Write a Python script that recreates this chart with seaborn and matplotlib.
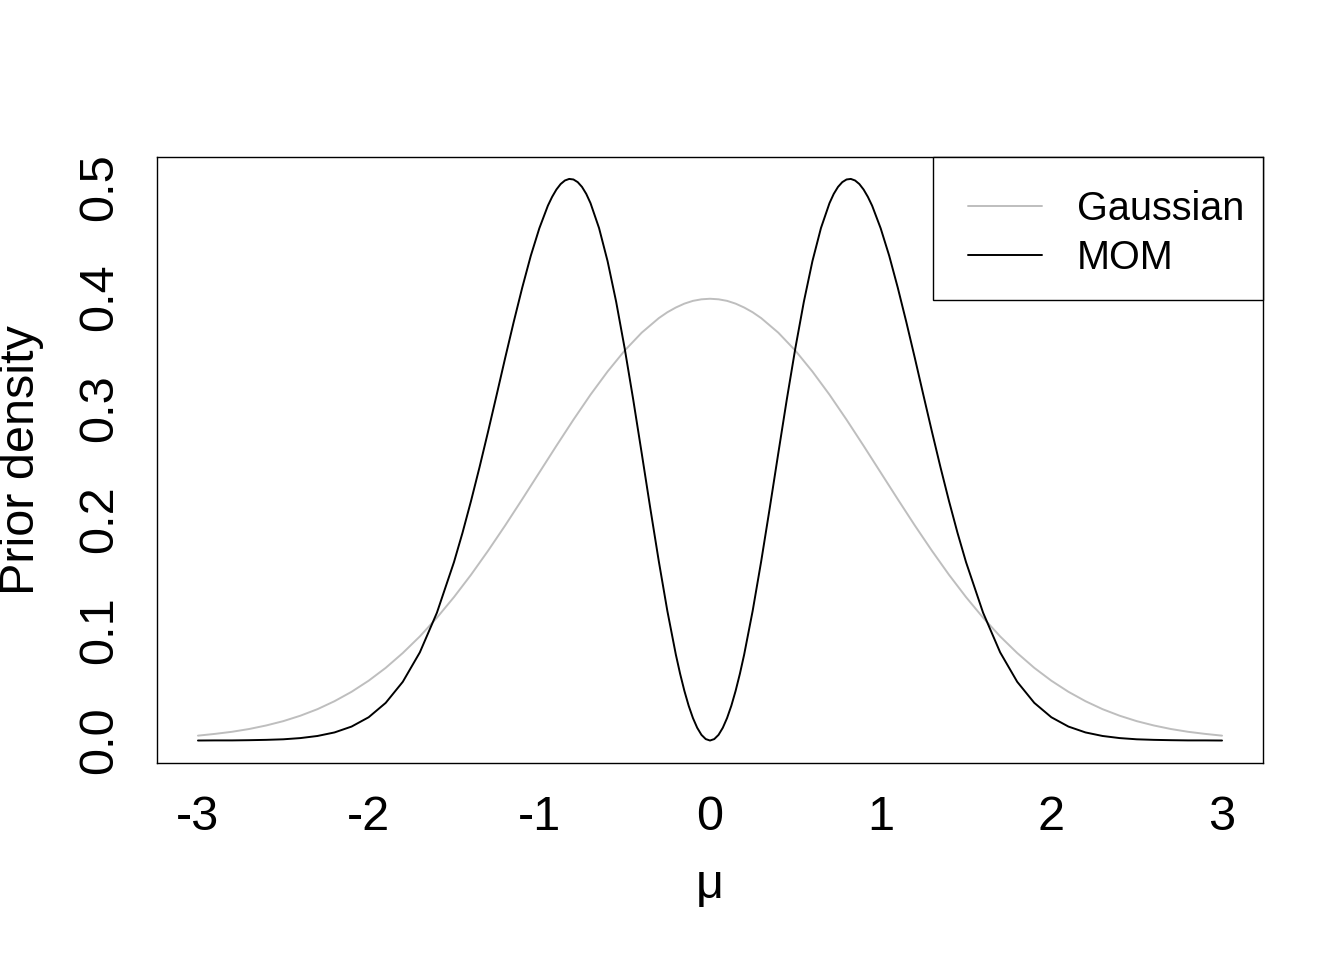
import matplotlib
matplotlib.use("Agg")
import matplotlib.pyplot as plt
from matplotlib.patches import Rectangle
import seaborn as sns

# ---- data ----
gauss_x = [-3.0, -2.9, -2.8, -2.7, -2.6, -2.5, -2.4, -2.3, -2.2, -2.1, -2.0,
           -1.9, -1.8, -1.7, -1.6, -1.5, -1.4, -1.3, -1.2, -1.1, -1.0,
           -0.9, -0.8, -0.7, -0.6, -0.5, -0.4, -0.3, -0.25, -0.2, -0.15, -0.1, -0.05, 0.0,
           0.05, 0.1, 0.15, 0.2, 0.25, 0.3, 0.4, 0.5, 0.6, 0.7, 0.8, 0.9, 1.0,
           1.1, 1.2, 1.3, 1.4, 1.5, 1.6, 1.7, 1.8, 1.9, 2.0,
           2.1, 2.2, 2.3, 2.4, 2.5, 2.6, 2.7, 2.8, 2.9, 3.0]
gauss_y = [0.0044, 0.0060, 0.0079, 0.0104, 0.0136, 0.0175, 0.0224, 0.0283, 0.0355, 0.0440, 0.0540,
           0.0656, 0.0790, 0.0940, 0.1109, 0.1295, 0.1497, 0.1714, 0.1942, 0.2179, 0.2420,
           0.2661, 0.2897, 0.3123, 0.3332, 0.3521, 0.3683, 0.3814, 0.3867, 0.3910, 0.3945, 0.3970, 0.3984, 0.3989,
           0.3984, 0.3970, 0.3945, 0.3910, 0.3867, 0.3814, 0.3683, 0.3521, 0.3332, 0.3123, 0.2897, 0.2661, 0.2420,
           0.2179, 0.1942, 0.1714, 0.1497, 0.1295, 0.1109, 0.0940, 0.0790, 0.0656, 0.0540,
           0.0440, 0.0355, 0.0283, 0.0224, 0.0175, 0.0136, 0.0104, 0.0079, 0.0060, 0.0044]

mom_x = [-3.0, -2.9, -2.8, -2.7, -2.6, -2.5, -2.4, -2.3, -2.2, -2.1, -2.0,
         -1.9, -1.8, -1.7, -1.6, -1.5, -1.45, -1.4, -1.35, -1.3, -1.25, -1.2, -1.15,
         -1.1, -1.05, -1.0, -0.95, -0.925, -0.9, -0.875, -0.85, -0.825, -0.8, -0.775, -0.75,
         -0.725, -0.7, -0.65, -0.6, -0.55,
         -0.5, -0.45, -0.4, -0.35, -0.3, -0.25, -0.2, -0.175, -0.15, -0.125, -0.1, -0.075,
         -0.05, -0.025, 0.0,
         0.025, 0.05, 0.075, 0.1, 0.125, 0.15, 0.175, 0.2, 0.25, 0.3, 0.35, 0.4, 0.45, 0.5,
         0.55, 0.6, 0.65, 0.7, 0.725, 0.75, 0.775, 0.8, 0.825, 0.85, 0.875, 0.9, 0.925, 0.95, 1.0,
         1.05, 1.1, 1.15, 1.2, 1.25, 1.3, 1.35, 1.4, 1.45, 1.5,
         1.6, 1.7, 1.8, 1.9, 2.0, 2.1, 2.2, 2.3, 2.4, 2.5, 2.6, 2.7, 2.8, 2.9, 3.0]
mom_y = [0.0000, 0.0001, 0.0001, 0.0003, 0.0006, 0.0011, 0.0022, 0.0041, 0.0073, 0.0126, 0.0210,
         0.0340, 0.0530, 0.0796, 0.1154, 0.1611, 0.1876, 0.2164, 0.2470, 0.2791, 0.3121, 0.3455, 0.3780,
         0.4090, 0.4377, 0.4625, 0.4829, 0.4909, 0.4975, 0.5025, 0.5057, 0.5071, 0.5066, 0.5042, 0.4999,
         0.4936, 0.4852, 0.4627, 0.4328, 0.3963,
         0.3542, 0.3080, 0.2593, 0.2099, 0.1619, 0.1171, 0.0775, 0.0602, 0.0448, 0.0314, 0.0203, 0.0115,
         0.0051, 0.0013, 0.0000,
         0.0013, 0.0051, 0.0115, 0.0203, 0.0314, 0.0448, 0.0602, 0.0775, 0.1171, 0.1619, 0.2099, 0.2593, 0.3080, 0.3542,
         0.3963, 0.4328, 0.4627, 0.4852, 0.4936, 0.4999, 0.5042, 0.5066, 0.5071, 0.5057, 0.5025, 0.4975, 0.4909, 0.4829, 0.4625,
         0.4377, 0.4090, 0.3780, 0.3455, 0.3121, 0.2791, 0.2470, 0.2164, 0.1876, 0.1611,
         0.1154, 0.0796, 0.0530, 0.0340, 0.0210, 0.0126, 0.0073, 0.0041, 0.0022, 0.0011,
         0.0006, 0.0003, 0.0001, 0.0001, 0.0000]

x_ticks = [-3, -2, -1, 0, 1, 2, 3]
x_tick_labels = ["-3", "-2", "-1", "0", "1", "2", "3"]
y_ticks = [0.0, 0.1, 0.2, 0.3, 0.4, 0.5]
y_tick_labels = ["0.0", "0.1", "0.2", "0.3", "0.4", "0.5"]
series_names = ["Gaussian", "MOM"]

# ---- styling ----
sns.set_style("white")
plt.rcParams['font.family'] = ['Liberation Sans', 'DejaVu Sans']
plt.rcParams['text.color'] = 'black'
plt.rcParams['axes.labelcolor'] = 'black'

W, H = 1344, 960
L, R, T, B = 157, 1263, 157, 763
fig = plt.figure(figsize=(W / 100, H / 100), dpi=100)
ax = fig.add_axes([L / W, 1 - B / H, (R - L) / W, (B - T) / H])


def ax_x(px):
    return (px - L) / (R - L)


def ax_y(py):
    return (B - py) / (B - T)


sns.lineplot(x=gauss_x, y=gauss_y, color="#BEBEBE", linewidth=1.4, ax=ax, label=series_names[0])
sns.lineplot(x=mom_x, y=mom_y, color="black", linewidth=1.4, ax=ax, label=series_names[1])

ax.set_xlim(-3.24, 3.24)
ax.set_ylim(-0.0203, 0.5269)
ax.set_xticks(x_ticks)
ax.set_xticklabels(x_tick_labels)
ax.set_yticks(y_ticks)
ax.set_yticklabels(y_tick_labels, rotation=90, va="center")
ax.tick_params(axis="both", direction="out", length=14, width=1.0, color="black",
               labelsize=35, labelcolor="black")
ax.tick_params(axis="x", pad=9)
ax.tick_params(axis="y", pad=11)
for s in ax.spines.values():
    s.set_visible(True)
    s.set_color("black")
    s.set_linewidth(1.0)

ax.set_xlabel("μ", fontsize=35)
ax.xaxis.label.set_va("baseline")
ax.xaxis.set_label_coords(0.5, ax_y(898))
ax.set_ylabel("Prior density", fontsize=35)
ax.yaxis.label.set_va("center")
ax.yaxis.set_label_coords(ax_x(22), 0.5)

# legend frame (R-style box)
frame = Rectangle((ax_x(933), ax_y(300)), ax_x(1263) - ax_x(933), ax_y(157) - ax_y(300),
                  transform=ax.transAxes, facecolor="white", edgecolor="black",
                  linewidth=1.0, zorder=4, clip_on=False)
ax.add_patch(frame)
leg = ax.legend(loc="upper left", bbox_to_anchor=(ax_x(968), ax_y(190)), borderaxespad=0,
                fontsize=28.5, handlelength=1.87, handletextpad=0.88, borderpad=0,
                labelspacing=0.28, frameon=False)
leg.set_zorder(5)
for t in leg.get_texts():
    t.set_color("black")

fig.savefig("out.png", dpi=100)
